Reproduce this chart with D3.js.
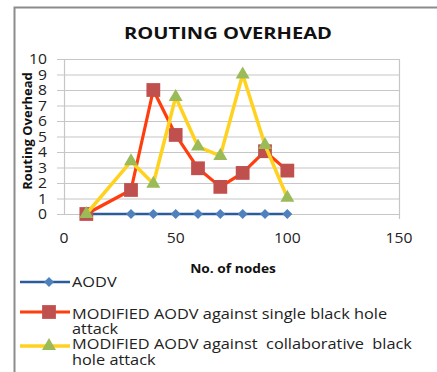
<!DOCTYPE html>
<html>
<head>
<meta charset="utf-8">
<title>Routing Overhead</title>
<script src="https://d3js.org/d3.v7.min.js"></script>
<style>
  body { margin: 0; background: #fff; }
  text { font-family: "Open Sans", sans-serif; white-space: pre; }
</style>
</head>
<body>
<svg width="437" height="372"></svg>
<script>
const nodes = [10, 30, 40, 50, 60, 70, 80, 90, 100]
const aodv = [0, 0, 0, 0, 0, 0, 0, 0, 0]
const singleBH = [0, 1.55, 8.0, 5.1, 2.95, 1.75, 2.65, 4.05, 2.8]
const collabBH = [0, 3.4, 1.95, 7.55, 4.35, 3.75, 9.0, 4.45, 1.05]
const xTicks = [0, 50, 100, 150]
const yTicks = [0, 1, 2, 3, 4, 5, 6, 7, 8, 9, 10]

const seriesNames = [
  ["AODV"],
  ["MODIFIED AODV against single black hole", "attack"],
  ["MODIFIED AODV against  collaborative  black", "hole attack"]
]

const svg = d3.select("svg")
const width = +svg.attr("width")
const height = +svg.attr("height")
const margin = { top: 59, left: 64, right: 38, bottom: 158 }

// chart frame (only top and left edges visible)
svg.append("path")
  .attr("d", `M14.5,${height} V7.5 H${width}`)
  .attr("fill", "none")
  .attr("stroke", "#8c8c8c")
  .attr("stroke-width", 2)

const x = d3.scaleLinear().domain([0, 150]).range([margin.left, width - margin.right])
const y = d3.scaleLinear().domain([0, 10]).range([height - margin.bottom, margin.top])

// grid
svg.append("g").selectAll("line").data(yTicks).join("line")
  .attr("x1", x(0) - 7).attr("x2", x(150))
  .attr("y1", d => y(d) + 0.5).attr("y2", d => y(d) + 0.5)
  .attr("stroke", "#c6c6c6").attr("stroke-width", 1.2)

svg.append("line")
  .attr("x1", x(0) + 0.5).attr("x2", x(0) + 0.5)
  .attr("y1", y(10)).attr("y2", y(0))
  .attr("stroke", "#c6c6c6").attr("stroke-width", 1.2)
svg.append("line")
  .attr("x1", x(150) + 0.5).attr("x2", x(150) + 0.5)
  .attr("y1", y(10)).attr("y2", y(0) + 5)
  .attr("stroke", "#c6c6c6").attr("stroke-width", 1.2)

// axis labels (text is a little stretched sideways, like the source image)
svg.append("g").selectAll("text").data(yTicks).join("text")
  .attr("transform", d => `translate(47,${y(d) + 5}) scale(1.12,1)`)
  .attr("text-anchor", "end")
  .attr("font-size", 14)
  .attr("fill", "#222")
  .text(d => d)

svg.append("g").selectAll("text").data(xTicks).join("text")
  .attr("transform", d => `translate(${x(d)},243) scale(1.12,1)`)
  .attr("text-anchor", "middle")
  .attr("font-size", 14)
  .attr("fill", "#222")
  .text(d => d)

svg.append("text")
  .attr("transform", "translate(228,39) scale(1.22,1)")
  .attr("text-anchor", "middle")
  .attr("font-size", 16.5)
  .attr("font-weight", "bold")
  .attr("fill", "#111")
  .text("ROUTING OVERHEAD")

svg.append("text")
  .attr("transform", "translate(32,131) rotate(-90)")
  .attr("text-anchor", "middle")
  .attr("font-size", 13)
  .attr("font-weight", "bold")
  .attr("fill", "#111")
  .text("Routing Overhead")

svg.append("text")
  .attr("transform", "translate(233,273) scale(1.1,1)")
  .attr("text-anchor", "middle")
  .attr("font-size", 12.5)
  .attr("font-weight", "bold")
  .attr("fill", "#111")
  .text("No. of nodes")

const line = d3.line().x(d => x(d[0])).y(d => y(d[1]))

const diamond = d3.symbol().type(d3.symbolSquare).size(50)
const square = d3.symbol().type(d3.symbolSquare).size(190)
const triangle = d3.symbol().type(d3.symbolTriangle).size(85)

const series = [
  { vals: aodv, line: "#2c5a9a", mark: "#4f81bd", sym: diamond, rot: 45, w: 2.5 },
  { vals: singleBH, line: "#ff3d0d", mark: "#c0504d", sym: square, rot: 0, w: 3.2 },
  { vals: collabBH, line: "#ffd21f", mark: "#9bbb59", sym: triangle, rot: 0, w: 3.5 }
]

series.forEach(s => {
  const pts = nodes.map((n, i) => [n, s.vals[i]])
  svg.append("path")
    .datum(pts)
    .attr("d", line)
    .attr("fill", "none")
    .attr("stroke", s.line)
    .attr("stroke-width", s.w)
    .attr("stroke-linejoin", "round")
  svg.append("g").selectAll("path").data(pts).join("path")
    .attr("transform", d => `translate(${x(d[0])},${y(d[1])}) rotate(${s.rot})`)
    .attr("d", s.sym)
    .attr("fill", s.mark)
})

// legend
const legendY = [282, 312, 346]
const legendBase = [[287], [319, 334], [349, 365]]
series.forEach((s, i) => {
  const g = svg.append("g")
  g.append("line").attr("x1", 20).attr("x2", 70)
    .attr("y1", legendY[i]).attr("y2", legendY[i])
    .attr("stroke", s.line).attr("stroke-width", s.w)
  g.append("path").attr("transform", `translate(49,${legendY[i]}) rotate(${s.rot})`)
    .attr("d", s.sym).attr("fill", s.mark)
  g.selectAll("text").data(seriesNames[i]).join("text")
    .attr("transform", (d, j) => `translate(72,${legendBase[i][j]}) scale(1.09,1)`)
    .attr("font-size", 15)
    .attr("fill", "#222")
    .text(d => d)
})
</script>
</body>
</html>
